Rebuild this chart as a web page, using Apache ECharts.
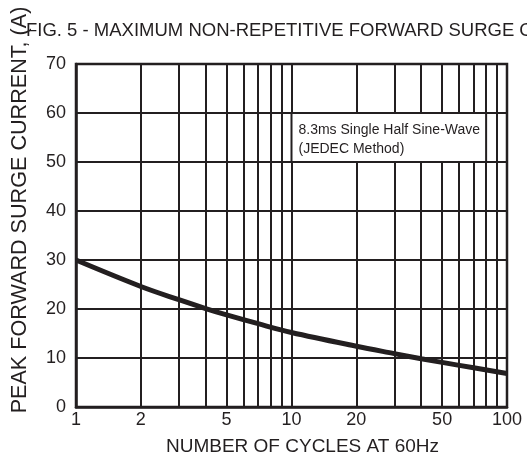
<!DOCTYPE html>
<html>
<head>
<meta charset="utf-8">
<script src="https://cdn.jsdelivr.net/npm/echarts@6/dist/echarts.min.js"></script>
<style>html,body{margin:0;padding:0;background:#fff;}#c{width:527px;height:465px;}</style>
</head>
<body>
<div id="c"></div>
<script>
// Data
const cycles = [1, 2, 3, 4, 5, 7, 10, 20, 30, 40, 50, 70, 100];
const surgeCurrent = [30, 24.6, 21.9, 20.1, 18.8, 17.0, 15.2, 12.4, 10.9, 9.85, 9.1, 8.0, 6.85];
const minorGridX = [2, 3, 4, 5, 6, 7, 8, 9, 20, 30, 40, 50, 60, 70, 80, 90];
const extraTickLabels = [2, 5, 20, 50];
const titleText = 'FIG. 5 - MAXIMUM NON-REPETITIVE FORWARD SURGE CURRENT';
const yTitle = 'PEAK FORWARD SURGE CURRENT, (A)';
const xTitle = 'NUMBER OF CYCLES AT 60Hz';
const noteLines = ['8.3ms Single Half Sine-Wave', '(JEDEC Method)'];
const noteBox = [[10, 60], [80, 50]];

const INK = '#231f20';
const FONT = 'Liberation Sans, Arial, Helvetica, sans-serif';

const chart = echarts.init(document.getElementById('c'), null, {renderer: 'canvas'});
chart.setOption({
  backgroundColor: '#fff',
  animation: false,
  title: {
    text: titleText, left: 26, top: 21, padding: 0,
    textStyle: {fontSize: 18.5, fontWeight: 'normal', color: INK, fontFamily: FONT}
  },
  graphic: [{
    type: 'text', x: 20.5, y: 210, rotation: Math.PI / 2,
    style: {text: yTitle, font: '21.6px ' + FONT, fill: INK, textAlign: 'center', textVerticalAlign: 'middle'}
  }],
  grid: {left: 76, right: 20, top: 64, bottom: 58, show: true, borderColor: INK, borderWidth: 2.5, backgroundColor: 'transparent'},
  xAxis: {
    type: 'log', logBase: 10, min: 1, max: 100,
    axisLine: {show: true, lineStyle: {color: INK, width: 2.5}},
    axisTick: {show: false},
    splitLine: {show: true, lineStyle: {color: INK, width: 2}},
    axisLabel: {fontSize: 18, color: INK, fontFamily: FONT, margin: 4},
    name: xTitle, nameLocation: 'middle', nameGap: 30,
    nameTextStyle: {fontSize: 19, color: INK, fontFamily: FONT, padding: [0, 0, 0, 22]}
  },
  yAxis: {
    type: 'value', min: 0, max: 70, interval: 10,
    axisLine: {show: true, lineStyle: {color: INK, width: 2.5}},
    axisTick: {show: false},
    splitLine: {show: true, lineStyle: {color: INK, width: 2}},
    axisLabel: {fontSize: 18, color: INK, fontFamily: FONT, margin: 10}
  },
  series: [
    {
      type: 'line', data: [], z: 1, silent: true,
      markLine: {
        z: 1,
        silent: true, symbol: ['none', 'none'], animation: false,
        lineStyle: {color: INK, width: 2, type: 'solid'},
        label: {
          show: true, position: 'start', distance: 4,
          fontSize: 18, color: INK, fontFamily: FONT,
          formatter: p => extraTickLabels.includes(p.value) ? String(p.value) : ''
        },
        emphasis: {disabled: true},
        data: minorGridX.map(v => ({xAxis: v}))
      }
    },
    {
      type: 'line', data: [], z: 6, silent: true,
      markArea: {
        z: 6,
        silent: true,
        itemStyle: {color: '#fff', borderColor: INK, borderWidth: 2, opacity: 1},
        label: {
          show: true, position: 'insideTopLeft', distance: 6, offset: [2, 3],
          fontSize: 14, lineHeight: 19, color: INK, fontFamily: FONT,
          formatter: noteLines.join('\n')
        },
        emphasis: {disabled: true},
        data: [[{xAxis: noteBox[0][0], yAxis: noteBox[0][1]}, {xAxis: noteBox[1][0], yAxis: noteBox[1][1]}]]
      }
    },
    {
      type: 'line', z: 8, smooth: 0.35, symbol: 'none',
      lineStyle: {color: INK, width: 5},
      data: cycles.map((c, i) => [c, surgeCurrent[i]])
    }
  ]
});
</script>
</body>
</html>
